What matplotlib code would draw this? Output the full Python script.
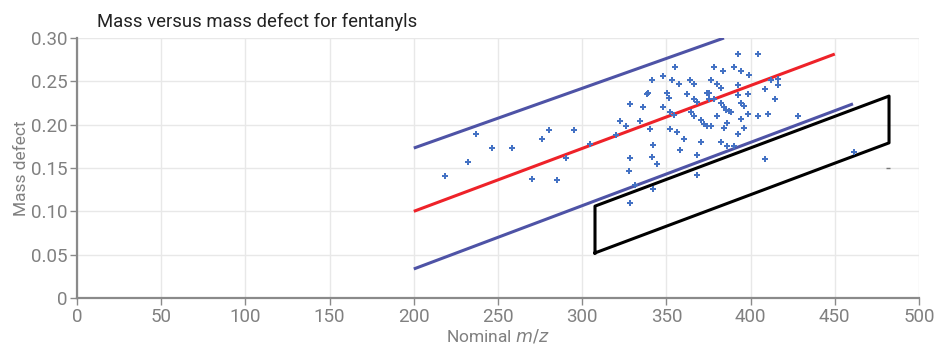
import matplotlib.pyplot as plt
from matplotlib.ticker import FuncFormatter

plt.rcParams['font.family'] = ['Roboto', 'DejaVu Sans']

# scatter points (nominal m/z, mass defect)
mz = [218.5, 232, 237.1, 246.2, 258.3, 270.2, 276.3, 280.1, 285.2, 290.4,
      295.1, 304.4, 320.2, 322.2, 326.2, 328.4, 328.4, 327.6, 328.4, 331.5,
      334.1, 336.3, 338.3, 339.3, 340.3, 341.3, 342.2, 341.3, 344.4, 342.2,
      348.2, 348.2, 350.2, 351.3, 352.3, 353.3, 355.1, 354.3, 352.3, 356.3,
      357.3, 358.3, 360.3, 362.2, 363.8, 364.4, 366.4, 366.4, 366.4, 368.4,
      368.4, 368.4, 370.4, 370.4, 372.3, 374.3, 376.3, 374.3, 375.3, 375.1,
      376.3, 378.3, 378.3, 380.2, 380.2, 382.2, 382.2, 382.2, 383.4, 384.2,
      384.2, 385.2, 386.2, 387.2, 388.2, 386.2, 390.3, 390.3, 392.3, 392.3,
      392.3, 392.3, 394.3, 394.3, 394.3, 396.3, 396.3, 398.3, 398.3, 399.2,
      404.2, 404.2, 408.3, 408.3, 410.3, 412.3, 414.3, 416.3, 416.3, 428.1,
      461.4]
defect = [0.141, 0.157, 0.189, 0.173, 0.173, 0.137, 0.183, 0.194, 0.136, 0.162,
          0.194, 0.178, 0.188, 0.204, 0.199, 0.224, 0.161, 0.147, 0.110, 0.130,
          0.204, 0.220, 0.235, 0.236, 0.195, 0.251, 0.176, 0.163, 0.155, 0.126,
          0.256, 0.220, 0.236, 0.231, 0.215, 0.252, 0.267, 0.211, 0.195, 0.192,
          0.247, 0.171, 0.183, 0.235, 0.252, 0.215, 0.247, 0.230, 0.210, 0.226,
          0.165, 0.142, 0.205, 0.180, 0.201, 0.199, 0.199, 0.236, 0.237, 0.230,
          0.252, 0.267, 0.230, 0.247, 0.210, 0.242, 0.225, 0.180, 0.262, 0.220,
          0.196, 0.217, 0.202, 0.216, 0.215, 0.175, 0.267, 0.175, 0.282, 0.246,
          0.234, 0.189, 0.262, 0.225, 0.207, 0.221, 0.196, 0.235, 0.212, 0.257,
          0.282, 0.210, 0.241, 0.160, 0.212, 0.252, 0.230, 0.253, 0.246, 0.210,
          0.168]

# trend lines: start/end points
upper_x = [200, 384.2]
upper_y = [0.173, 0.300]
center_x = [200, 450]
center_y = [0.100, 0.2815]
lower_x = [200, 460.8]
lower_y = [0.0335, 0.224]

# black parallelogram
box_x = [307.6, 307.6, 482.2, 482.2, 307.6]
box_y = [0.052, 0.106, 0.233, 0.179, 0.052]

# stray tick mark right of the box
dash_x = [481.6]
dash_y = [0.150]

fig = plt.figure(figsize=(9.37, 3.47), dpi=100, facecolor='white')
ax = fig.add_axes([77 / 937, 49 / 347, 842 / 937, 260 / 347])

ax.plot(upper_x, upper_y, color='#4e53a6', lw=2.2, solid_capstyle='butt', zorder=3)
ax.plot(center_x, center_y, color='#ee2229', lw=2.2, solid_capstyle='butt', zorder=3)
ax.plot(lower_x, lower_y, color='#4e53a6', lw=2.2, solid_capstyle='butt', zorder=3)
ax.plot(box_x, box_y, color='black', lw=2.2, zorder=3)
ax.scatter(mz, defect, marker='P', s=13, color='#4472c4', linewidths=0, zorder=4)
ax.plot(dash_x, dash_y, marker='_', ms=3, mew=1, color='#777777', lw=0, zorder=4)

ax.set_xlim(0, 500)
ax.set_ylim(0, 0.30)
ax.set_xticks(range(0, 501, 50))
ax.set_yticks([0, 0.05, 0.10, 0.15, 0.20, 0.25, 0.30])
ax.yaxis.set_major_formatter(FuncFormatter(lambda v, p: '0' if v == 0 else '%.2f' % v))

ax.grid(True, color='#e8e8e8', lw=1)
ax.set_axisbelow(True)
for s in ['top', 'right']:
    ax.spines[s].set_visible(False)
for s in ['left', 'bottom']:
    ax.spines[s].set_color('#8a8a8a')
    ax.spines[s].set_linewidth(1.6)
ax.tick_params(colors='#8a8a8a', labelcolor='#808080', labelsize=13.5, length=5, width=1, pad=2)

ax.set_xlabel('Nominal $\\it{m/z}$', color='#808080', fontsize=12.5, labelpad=1)
ax.set_ylabel('Mass defect', color='#808080', fontsize=12.5, labelpad=1)
fig.text(97 / 937, 1 - 22 / 347, 'Mass versus mass defect for fentanyls',
         color='#222222', fontsize=13.3, ha='left', va='center')

fig.savefig('out.png', dpi=100, facecolor='white')
